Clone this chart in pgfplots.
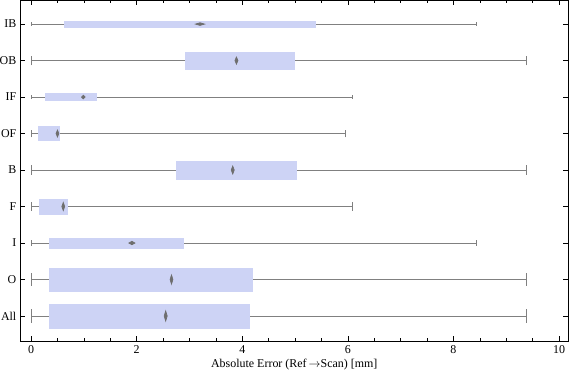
\documentclass[border=0pt]{standalone}
\usepackage{fontspec}
\setmainfont{Liberation Serif}
\usepackage{pgfplots}
\pgfplotsset{compat=1.18}
\usepgfplotslibrary{statistics}
\definecolor{boxfill}{RGB}{205,211,245}
\definecolor{whiskgray}{RGB}{128,128,128}
\definecolor{medgray}{RGB}{110,110,110}
\pgfplotsset{
  medrx/.initial=1.3bp,
  medry/.initial=3bp,
}
\begin{document}
\fontsize{12}{14}\selectfont
\begin{tikzpicture}
\begin{axis}[
  scale only axis,
  width=547.5bp, height=341bp,
  xmin=-0.2, xmax=10.17,
  ymin=0.315, ymax=9.66,
  xtick={0,2,4,6,8,10},
  minor x tick num=3,
  ytick={1,2,3,4,5,6,7,8,9},
  yticklabels={All,O,I,F,B,OF,IF,OB,IB},
  tick align=inside,
  major tick length=5bp,
  minor tick length=3bp,
  axis line style={black, line width=0.8pt},
  every tick/.style={black, line width=0.6pt},
  tick label style={font=\fontsize{12}{14}\selectfont},
  label style={font=\fontsize{12}{14}\selectfont},
  /pgf/number format/assume math mode=true,
  xlabel={Absolute Error (Ref\,$\rightarrow$Scan) [mm]},
  xlabel style={yshift=2bp},
  boxplot/draw direction=x,
  boxplot/whisker extend=\pgfkeysvalueof{/pgfplots/boxplot/box extend}*0.55,
  boxplot/draw/box/.code={%
    \fill[boxfill] (boxplot box cs:\pgfplotsboxplotvalue{lower quartile},0) rectangle (boxplot box cs:\pgfplotsboxplotvalue{upper quartile},1);
  },
  boxplot/draw/median/.code={%
    \fill[medgray] (boxplot box cs:\pgfplotsboxplotvalue{median},0.5)
      +(-\pgfkeysvalueof{/pgfplots/medrx},0bp) -- +(0bp,\pgfkeysvalueof{/pgfplots/medry})
      -- +(\pgfkeysvalueof{/pgfplots/medrx},0bp) -- +(0bp,-\pgfkeysvalueof{/pgfplots/medry}) -- cycle;
  },
]
% All
\addplot[draw=whiskgray, line width=0.75pt, boxplot prepared={lower whisker=0, lower quartile=0.34, median=2.55, upper quartile=4.13, upper whisker=9.38, draw position=1, box extend=0.66}, medrx=1.5bp, medry=5bp] coordinates {};
% O
\addplot[draw=whiskgray, line width=0.75pt, boxplot prepared={lower whisker=0, lower quartile=0.34, median=2.66, upper quartile=4.20, upper whisker=9.38, draw position=2, box extend=0.63}, medrx=1.4bp, medry=4.5bp] coordinates {};
% I
\addplot[draw=whiskgray, line width=0.75pt, boxplot prepared={lower whisker=0, lower quartile=0.34, median=1.91, upper quartile=2.89, upper whisker=8.44, draw position=3, box extend=0.28}, medrx=3bp, medry=1.7bp] coordinates {};
% F
\addplot[draw=whiskgray, line width=0.75pt, boxplot prepared={lower whisker=0, lower quartile=0.15, median=0.61, upper quartile=0.68, upper whisker=6.09, draw position=4, box extend=0.41}, medrx=1.4bp, medry=4bp] coordinates {};
% B
\addplot[draw=whiskgray, line width=0.75pt, boxplot prepared={lower whisker=0, lower quartile=2.75, median=3.82, upper quartile=5.02, upper whisker=9.38, draw position=5, box extend=0.49}, medrx=1.5bp, medry=3.9bp] coordinates {};
% OF
\addplot[draw=whiskgray, line width=0.75pt, boxplot prepared={lower whisker=0, lower quartile=0.13, median=0.50, upper quartile=0.53, upper whisker=5.95, draw position=6, box extend=0.38}, medrx=1.4bp, medry=3.4bp] coordinates {};
% IF
\addplot[draw=whiskgray, line width=0.75pt, boxplot prepared={lower whisker=0, lower quartile=0.265, median=0.99, upper quartile=1.24, upper whisker=6.09, draw position=7, box extend=0.19}, medrx=1.8bp, medry=1.8bp] coordinates {};
% OB
\addplot[draw=whiskgray, line width=0.75pt, boxplot prepared={lower whisker=0, lower quartile=2.92, median=3.89, upper quartile=4.98, upper whisker=9.38, draw position=8, box extend=0.47}, medrx=1.5bp, medry=3.5bp] coordinates {};
% IB
\addplot[draw=whiskgray, line width=0.75pt, boxplot prepared={lower whisker=0, lower quartile=0.63, median=3.20, upper quartile=5.38, upper whisker=8.44, draw position=9, box extend=0.16}, medrx=4.5bp, medry=1.3bp] coordinates {};
\end{axis}
\pgfresetboundingbox
\path (current axis.south west) ++(-20.5bp,-40bp) (current axis.north east) ++(8bp,0bp);
\end{tikzpicture}
\end{document}
